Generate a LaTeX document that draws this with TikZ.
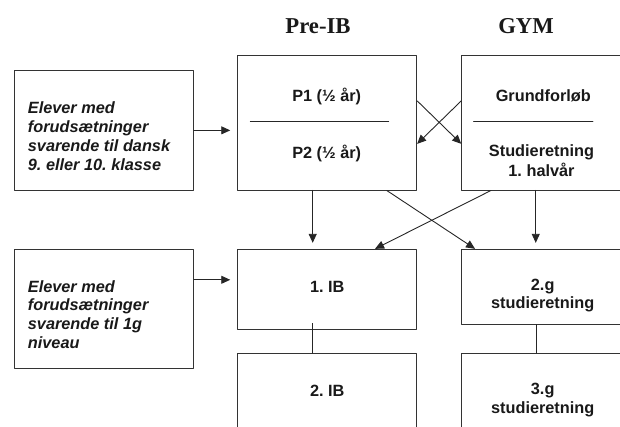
\documentclass[tikz,border=0pt]{standalone}
\usepackage{fontspec}
\setmainfont{Liberation Sans}
\newfontfamily\headfont{Liberation Serif}
\usetikzlibrary{arrows.meta}
\frenchspacing
\begin{document}
\begin{tikzpicture}[x=1pt, y=-1pt, line join=round, line cap=round, >={Triangle[length=9pt,width=8pt]},
	box/.style={draw=black!80, line width=0.9pt, inner sep=0pt, minimum width=179pt},
	txt/.style={inner sep=0pt, align=center, text=black!90, font=\bfseries\fontsize{16.3}{18.7}\selectfont},
	itxt/.style={txt, align=left, font=\bfseries\itshape\fontsize{16.3}{18.7}\selectfont},
	head/.style={inner sep=0pt, anchor=base, text=black!90, font=\headfont\bfseries\fontsize{22.7}{26}\selectfont},
	link/.style={draw=black!85, line width=0.9pt}]
			\useasboundingbox (0,0) rectangle (620,427);
			\clip (0,0) rectangle (620,427);
			% kolonner
			\node[head] (hpre) at (318,33.5) {Pre-IB};
			\node[head] (hgym) at (526,33.5) {GYM};
			% foerste raekke
			\node[box, minimum height=119.3pt] (elev1) at (104,130.35) {};
			\node[box, minimum height=134.3pt] (preib) at (327.2,122.85) {};
			\node[box, minimum width=163.3pt, minimum height=134.3pt] (gym) at (543.35,122.85) {};
			\node[itxt, anchor=west] (t1) at (27.7,138.3) {\strut Elever med\\\strut forudsætninger\\\strut svarende til dansk\\\strut 9. eller 10. klasse};
			\node[txt] (p1) at (326.7,97.8) {\strut P1 (½ år)};
			\node[txt] (p2) at (326.7,154.3) {\strut P2 (½ år)};
			\node[txt] (grund) at (543.3,97.8) {\strut Grundforløb};
			\node[txt] (stud1) at (541.5,163.1) {\strut Studieretning\\\strut 1. halvår};
			\draw[link] ([xshift=13pt,yshift=1pt]preib.west) -- ++(138.3,0);
			\draw[link] ([xshift=12.3pt,yshift=1.5pt]gym.west) -- ++(119.3,0);
			% anden raekke
			\node[box, minimum height=119pt] (elev2) at (104,308.8) {};
			\node[box, minimum height=79.7pt] (ib1) at (327.2,289.15) {};
			\node[box, minimum width=163.3pt, minimum height=74.7pt] (g2) at (543.35,286.65) {};
			\node[itxt, anchor=west] (t2) at (27.7,316.6) {\strut Elever med\\\strut forudsætninger\\\strut svarende til 1g\\\strut niveau};
			\node[txt] (ib1t) at (327.3,288.9) {\strut 1. IB};
			\node[txt] (g2t) at (542.7,295.9) {\strut 2.g\\\strut studieretning};
			% tredje raekke
			\node[box, minimum height=80pt] (ib2) at (327.2,393.3) {};
			\node[box, minimum width=163.3pt, minimum height=80pt] (g3) at (543.35,393.3) {};
			\node[txt] (ib2t) at (327.3,392.9) {\strut 2. IB};
			\node[txt] (g3t) at (542.7,400) {\strut 3.g\\\strut studieretning};
			% pile
			\draw[link,->,shorten >=7pt] (elev1.east) -- (elev1.east -| preib.west);
			\draw[link,->,shorten >=7pt] ([yshift=29pt]elev2.east) -- ([yshift=29pt]elev2.east -| ib1.west);
			\draw[link,->] ([yshift=22pt]preib.east) -- ([yshift=-21pt]gym.west);
			\draw[link,->] ([yshift=22pt]gym.west) -- ([yshift=-21pt]preib.east);
			\draw[link,->,shorten >=6pt] ([xshift=-14.5pt]preib.south) -- ([xshift=-14.5pt]ib1.north);
			\draw[link,->,shorten >=6pt] ([xshift=-7.6pt]gym.south) -- ([xshift=-7.6pt]g2.north);
			\draw[link,->] ([xshift=59.5pt]preib.south) -- ([xshift=-68.3pt]g2.north);
			\draw[link,->] ([xshift=-52.3pt]gym.south) -- ([xshift=47.8pt]ib1.north);
			\draw[link] ([xshift=-14.5pt,yshift=6pt]ib1.south) -- ([xshift=-14.5pt]ib2.north);
			\draw[link] ([xshift=-7.3pt]g2.south) -- ([xshift=-7.3pt]g3.north);
		\end{tikzpicture}
\end{document}
